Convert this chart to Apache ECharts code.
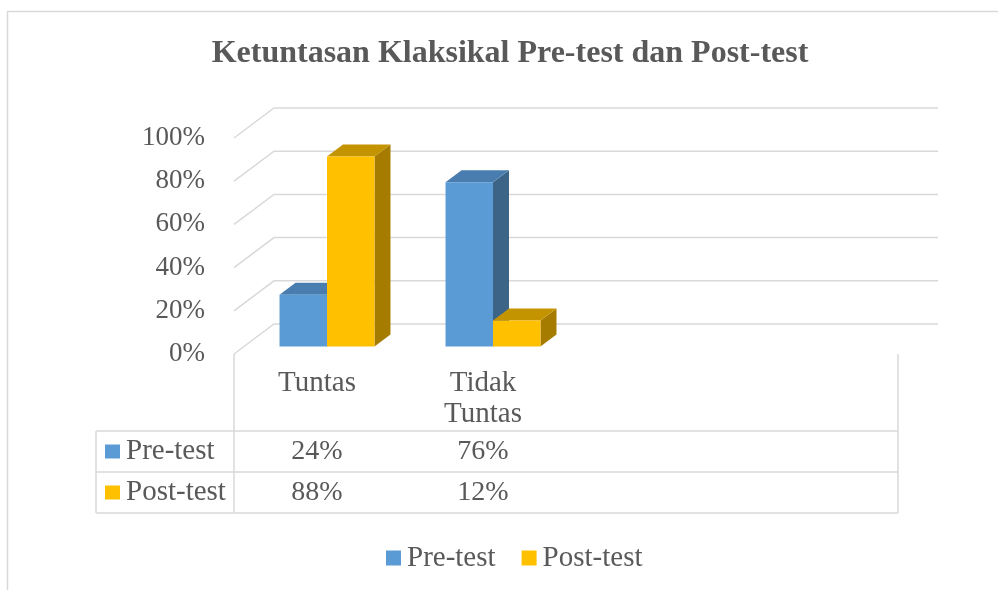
<!DOCTYPE html>
<html>
<head>
<meta charset="utf-8">
<script src="https://cdn.jsdelivr.net/npm/echarts@6/dist/echarts.min.js"></script>
<style>
html,body{margin:0;padding:0;background:#fff;}
#chart{width:998px;height:590px;}
</style>
</head>
<body>
<div id="chart"></div>
<script>
// ---- data ----
const titleText = 'Ketuntasan Klaksikal Pre-test dan Post-test';
const categories = ['Tuntas', 'Tidak\nTuntas', '', ''];
const seriesNames = ['Pre-test', 'Post-test'];
const preTest = [0.24, 0.76, null, null];
const postTest = [0.88, 0.12, null, null];
const yTicks = [0, 0.2, 0.4, 0.6, 0.8, 1.0];

// ---- style ----
const FONT = 'Liberation Serif, DejaVu Serif, Times New Roman, serif';
const TXT = '#595959';
const GRIDC = '#D9D9D9';
const colors = [
  {front: '#5B9BD5', top: '#4A7DAF', side: '#3B6487'},
  {front: '#FFC000', top: '#C49300', side: '#A67C00'}
];
const DEPTH = [40, -30];       // wall depth
const BAR_SHIFT = [10, -7.5];  // bar placement inside depth
const BAR_DEPTH = [16, -12];   // bar own depth
const pct = v => Math.round(v * 100) + '%';

const chart = echarts.init(document.getElementById('chart'), null, {renderer: 'canvas'});

function barRender(sIdx) {
  return function (params, api) {
    const v = api.value(1);
    if (v == null || isNaN(v)) return;
    const cat = api.value(0);
    const base = api.coord([cat, 0]);
    const top = api.coord([cat, v]);
    const band = api.size([1, 0])[0];
    const bw = band * 0.286;
    const x0 = base[0] - bw + sIdx * bw + BAR_SHIFT[0];
    const yb = base[1] + BAR_SHIFT[1];
    const yt = top[1] + BAR_SHIFT[1];
    const c = colors[sIdx];
    const dx = BAR_DEPTH[0], dy = BAR_DEPTH[1];
    return {
      type: 'group',
      children: [
        {type: 'polygon', shape: {points: [[x0 + bw, yt], [x0 + bw + dx, yt + dy], [x0 + bw + dx, yb + dy], [x0 + bw, yb]]}, style: {fill: c.side}},
        {type: 'polygon', shape: {points: [[x0, yt], [x0 + bw, yt], [x0 + bw + dx, yt + dy], [x0 + dx, yt + dy]]}, style: {fill: c.top}},
        {type: 'rect', shape: {x: x0, y: yt, width: bw, height: yb - yt}, style: {fill: c.front}}
      ]
    };
  };
}

function gridRender(params, api) {
  const v = api.value(1);
  const cs = params.coordSys;
  const y = api.coord([0, v])[1];
  const x = cs.x;
  return {
    type: 'polyline',
    shape: {points: [[x, y], [x + DEPTH[0], y + DEPTH[1]], [x + cs.width + DEPTH[0], y + DEPTH[1]]]},
    style: {stroke: GRIDC, lineWidth: 1.5, fill: null}
  };
}

chart.setOption({
  animation: false,
  title: {
    text: titleText, left: 505, top: 33, textAlign: 'center',
    textStyle: {fontFamily: FONT, fontSize: 32, fontWeight: 'bold', color: TXT}
  },
  legend: {
    data: seriesNames.map(n => ({name: n, icon: 'rect'})),
    left: 381, top: 538, itemWidth: 15, itemHeight: 15, itemGap: 26,
    textStyle: {fontFamily: FONT, fontSize: 29, color: TXT, lineHeight: 30, padding: [0, 0, 0, 1]}
  },
  grid: {left: 234, top: 138, width: 664, height: 216},
  xAxis: {
    type: 'category', data: categories, boundaryGap: true,
    axisLine: {show: false}, axisTick: {show: false},
    axisLabel: {fontFamily: FONT, fontSize: 29, color: TXT, lineHeight: 31, margin: 14, interval: 0}
  },
  yAxis: {
    type: 'value', min: 0, max: 1, interval: 0.2,
    axisLine: {show: false}, axisTick: {show: false}, splitLine: {show: false},
    axisLabel: {formatter: pct, fontFamily: FONT, fontSize: 27, color: TXT, margin: 29}
  },
  series: [
    {type: 'custom', name: '_grid', silent: true, clip: false, renderItem: gridRender,
     data: yTicks.map(t => [0, t]), z: 1},
    {type: 'custom', name: seriesNames[0], clip: false, renderItem: barRender(0),
     itemStyle: {color: colors[0].front}, data: preTest.map((v, i) => [i, v]), z: 3},
    {type: 'custom', name: seriesNames[1], clip: false, renderItem: barRender(1),
     itemStyle: {color: colors[1].front}, data: postTest.map((v, i) => [i, v]), z: 4}
  ]
});

// ---- data table & frame via graphic, positioned from the axis scale ----
const gx0 = chart.convertToPixel({gridIndex: 0}, [0, 0]);
const band = chart.convertToPixel({gridIndex: 0}, [1, 0])[0] - gx0[0];
const gridLeft = gx0[0] - band / 2;
const gridRight = gridLeft + band * categories.length;
const gridBottom = gx0[1];
const tLeft = 96, rowTops = [431, 472, 513];
const line = (x1, y1, x2, y2) => ({type: 'line', shape: {x1, y1, x2, y2}, style: {stroke: GRIDC, lineWidth: 1.5}, silent: true});
const g = [];
g.push({type: 'rect', shape: {x: 7.5, y: 11.5, width: 1000, height: 600}, style: {fill: null, stroke: GRIDC, lineWidth: 1.5}, silent: true, z: -10});
rowTops.forEach(y => g.push(line(tLeft, y, gridRight, y)));
g.push(line(tLeft, rowTops[0], tLeft, rowTops[2]));
g.push(line(gridLeft, gridBottom, gridLeft, rowTops[2]));
g.push(line(gridRight, gridBottom, gridRight, rowTops[2]));
const tableRows = [preTest, postTest];
tableRows.forEach((vals, r) => {
  const cy = (rowTops[r] + rowTops[r + 1]) / 2;
  g.push({type: 'rect', shape: {x: 105, y: cy - 7, width: 15, height: 14}, style: {fill: colors[r].front}, silent: true});
  g.push({type: 'text', x: 126, y: cy, style: {text: seriesNames[r], fontFamily: FONT, fontSize: 29, fill: TXT, verticalAlign: 'middle'}, silent: true});
  vals.forEach((v, i) => {
    if (v == null) return;
    const cx = chart.convertToPixel({gridIndex: 0}, [i, 0])[0];
    g.push({type: 'text', x: cx, y: cy, style: {text: pct(v), fontFamily: FONT, fontSize: 28, fill: TXT, align: 'center', verticalAlign: 'middle'}, silent: true});
  });
});
chart.setOption({graphic: {elements: g}});
</script>
</body>
</html>
